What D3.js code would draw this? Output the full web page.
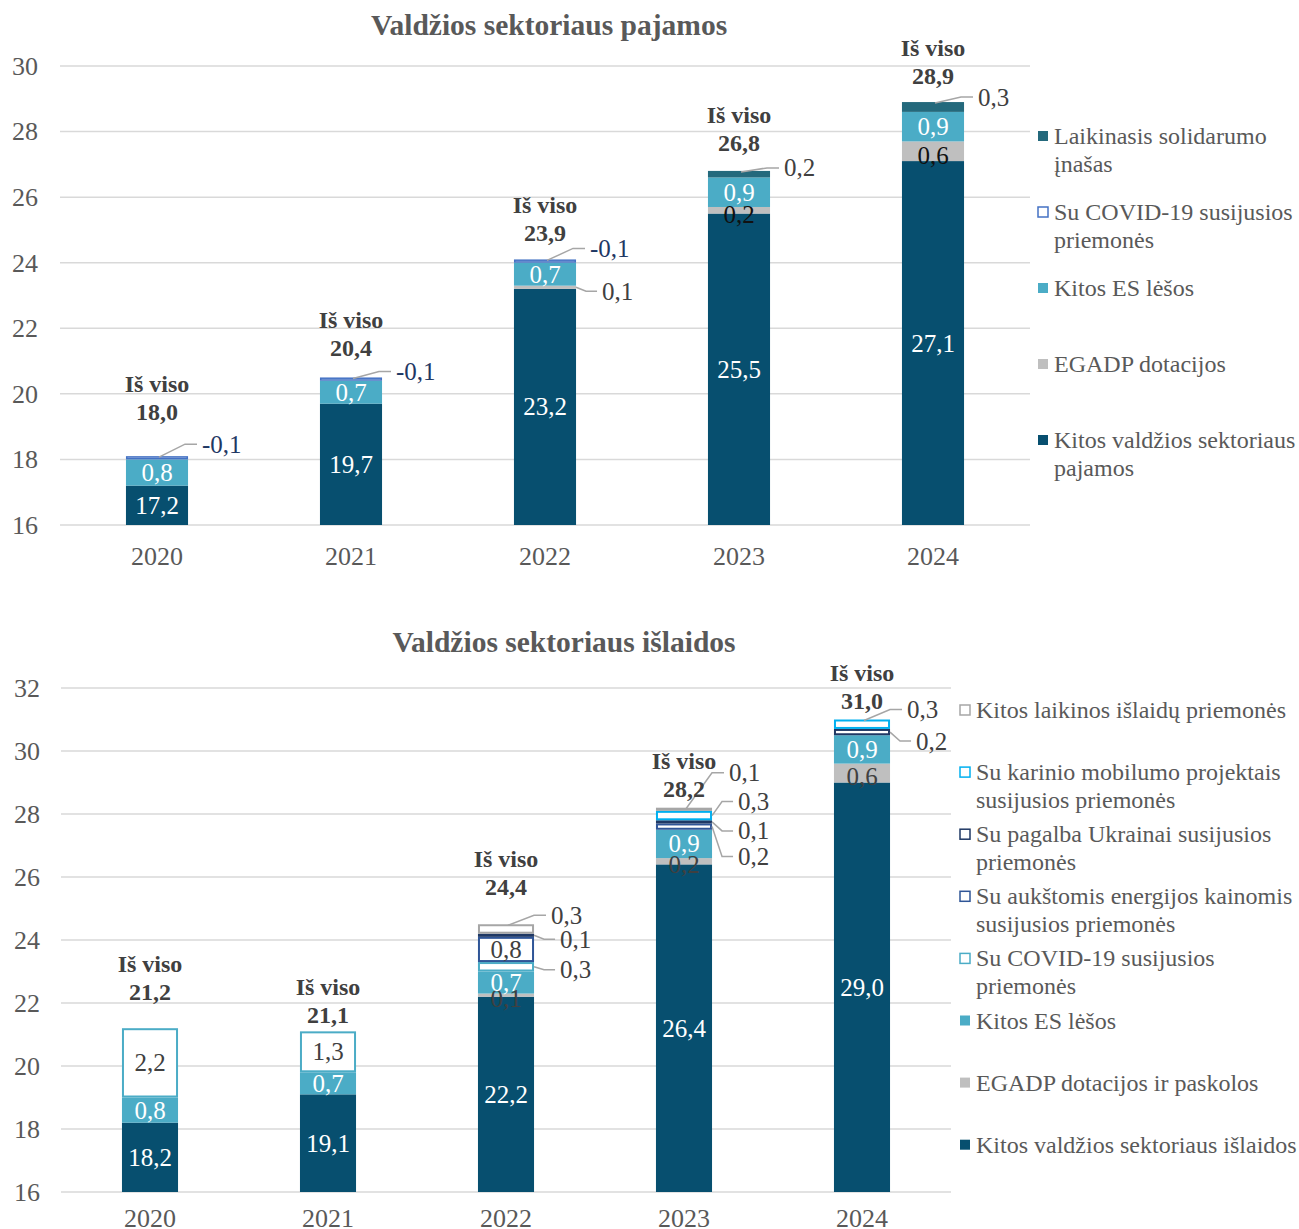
<!DOCTYPE html>
<html><head><meta charset="utf-8">
<script src="https://cdn.jsdelivr.net/npm/d3@7"></script>
<style>body{margin:0;background:#fff} svg{display:block}</style>
</head><body>
<svg id="c" width="1299" height="1229"></svg>
<script>
// ---------- DATA ----------
const years = ["2020","2021","2022","2023","2024"];

// Revenue chart
const revTitle = "Valdžios sektoriaus pajamos";
const revOther = [17.2, 19.7, 23.2, 25.5, 27.1];
const revEgadp = [0, 0, 0.1, 0.2, 0.6];
const revEu = [0.8, 0.7, 0.7, 0.9, 0.9];
const revCovid = [-0.1, -0.1, -0.1, 0, 0];
const revSolidarity = [0, 0, 0, 0.2, 0.3];
const revTotal = [18.0, 20.4, 23.9, 26.8, 28.9];
const revTicks = [16, 18, 20, 22, 24, 26, 28, 30];
const revNames = ["Kitos valdžios sektoriaus pajamos", "EGADP dotacijos", "Kitos ES lėšos",
  "Su COVID-19 susijusios priemonės", "Laikinasis solidarumo įnašas"];

// Expenditure chart
const expTitle = "Valdžios sektoriaus išlaidos";
const expOther = [18.2, 19.1, 22.2, 26.4, 29.0];
const expEgadp = [0, 0, 0.1, 0.2, 0.6];
const expEu = [0.8, 0.7, 0.7, 0.9, 0.9];
const expCovid = [2.2, 1.3, 0.3, 0, 0];
const expEnergy = [0, 0, 0.8, 0.2, 0];
const expUkraine = [0, 0, 0.1, 0.1, 0.2];
const expMilitary = [0, 0, 0, 0.3, 0.3];
const expTempOther = [0, 0, 0.3, 0.1, 0];
const expTotal = [21.2, 21.1, 24.4, 28.2, 31.0];
const expTicks = [16, 18, 20, 22, 24, 26, 28, 30, 32];
const expNames = ["Kitos valdžios sektoriaus išlaidos", "EGADP dotacijos ir paskolos", "Kitos ES lėšos",
  "Su COVID-19 susijusios priemonės", "Su aukštomis energijos kainomis susijusios priemonės",
  "Su pagalba Ukrainai susijusios priemonės", "Su karinio mobilumo projektais susijusios priemonės",
  "Kitos laikinos išlaidų priemonės"];
const totalWord = "Iš viso";

// ---------- STYLE / LAYOUT ----------
const FONT = "'Liberation Serif','Times New Roman',serif";
const fmt = v => d3.format(".1f")(v).replace(".", ",").replace("\u2212", "-");
const svg = d3.select("#c");

function drawChart(cfg) {
  const g = svg.append("g");
  const x = d3.scaleBand().domain(years).range(cfg.xRange).paddingInner(cfg.padIn).paddingOuter(cfg.padIn / 2);
  const y = d3.scaleLinear().domain(cfg.yDomain).range(cfg.yRange);

  // gridlines
  g.selectAll("line.grid").data(cfg.ticks).join("line")
    .attr("x1", cfg.xRange[0]).attr("x2", cfg.xRange[1])
    .attr("y1", d => y(d)).attr("y2", d => y(d))
    .attr("stroke", "#d9d9d9").attr("stroke-width", 1.5);

  // y tick labels
  const ya = d3.axisLeft(y).tickValues(cfg.ticks).tickSize(0).tickPadding(0).tickFormat(d3.format("d"));
  const yg = g.append("g").attr("transform", `translate(${cfg.tickX},0)`).call(ya);
  yg.select(".domain").remove();
  yg.selectAll("text").attr("font-family", FONT).attr("font-size", 26).attr("fill", "#595959");

  // x labels
  const xa = d3.axisBottom(x).tickSize(0).tickPadding(0);
  const xg = g.append("g").attr("transform", `translate(0,${cfg.xLabelY})`).call(xa);
  xg.select(".domain").remove();
  xg.selectAll("text").attr("font-family", FONT).attr("font-size", 26).attr("fill", "#595959")
    .attr("dy", "0.35em");

  // title
  g.append("text").attr("x", cfg.titleX).attr("y", cfg.titleY).attr("text-anchor", "middle")
    .attr("dominant-baseline", "central")
    .attr("font-family", FONT).attr("font-size", 29.5).attr("font-weight", "bold").attr("fill", "#595959")
    .text(cfg.title);

  // clip
  const clipId = "clip" + cfg.id;
  svg.append("clipPath").attr("id", clipId).append("rect")
    .attr("x", cfg.xRange[0]).attr("width", cfg.xRange[1] - cfg.xRange[0])
    .attr("y", 0).attr("height", cfg.yRange[0]);

  const bw = x.bandwidth();
  const segs = [];
  years.forEach((yr, i) => {
    let base = 0;
    cfg.series.forEach((s, si) => {
      const v = s.values[i];
      if (v === 0) return;
      const h = Math.abs(v);
      segs.push({yr, i, si, s, v, y0: base, y1: base + h});
      base += h;
    });
  });
  const tops = years.map((yr, i) => d3.max(segs.filter(d => d.i === i), d => d.y1));

  const bars = g.append("g").attr("clip-path", `url(#${clipId})`);
  segs.forEach(d => {
    const sw = d.s.outline ? d.s.sw : 0;
    const top = y(d.y1), bot = y(d.y0);
    bars.append("rect")
      .attr("x", x(d.yr) + sw / 2).attr("width", bw - sw)
      .attr("y", top + sw / 2).attr("height", Math.max(0.1, bot - top - sw))
      .attr("fill", d.s.outline ? (d.s.fill || "#ffffff") : d.s.color)
      .attr("stroke", d.s.outline ? d.s.color : "none")
      .attr("stroke-width", sw);
  });

  // labels
  const isCallout = d => cfg.callouts.find(c => c.si === d.si && c.i === d.i);
  segs.forEach(d => {
    const cx = x(d.yr) + bw / 2;
    const c = isCallout(d);
    const top = y(d.y1);
    const bot = Math.min(y(d.y0), cfg.yRange[0]);
    if (c) {
      let pts, tx, ty;
      if (c.type === "top") {
        ty = top + c.dy;
        pts = [[cx + 2, top + 1], [cx + 28, ty], [cx + 40, ty]];
        tx = cx + 45;
      } else {
        const mid = (top + bot) / 2 + (c.sy || 0);
        const re = x(d.yr) + bw;
        ty = mid + c.dy;
        pts = [[re, mid], [re + 10, ty], [re + 21, ty]];
        tx = re + 26;
      }
      g.append("path").attr("d", d3.line()(pts)).attr("fill", "none")
        .attr("stroke", "#a6a6a6").attr("stroke-width", 1.5);
      g.append("text").attr("x", tx).attr("y", ty).attr("dominant-baseline", "central")
        .attr("font-family", FONT).attr("font-size", 25).attr("fill", d.s.calloutColor || "#404040")
        .text(fmt(d.v));
    } else {
      g.append("text").attr("x", cx).attr("y", (top + bot) / 2 + (d.s.labelDy || 0))
        .attr("text-anchor", "middle").attr("dominant-baseline", "central")
        .attr("font-family", FONT).attr("font-size", 25).attr("fill", d.s.labelColor)
        .text(fmt(d.v));
    }
  });

  // totals
  years.forEach((yr, i) => {
    const cx = x(yr) + bw / 2;
    const ny = y(tops[i]) - cfg.totalOff[i];
    g.append("text").attr("x", cx).attr("y", ny).attr("text-anchor", "middle").attr("dominant-baseline", "central")
      .attr("font-family", FONT).attr("font-size", 24).attr("font-weight", "bold").attr("fill", "#404040")
      .text(fmt(cfg.totals[i]));
    g.append("text").attr("x", cx).attr("y", ny - 28).attr("text-anchor", "middle").attr("dominant-baseline", "central")
      .attr("font-family", FONT).attr("font-size", 24).attr("font-weight", "bold").attr("fill", "#404040")
      .text(totalWord);
  });

  // legend
  cfg.legend.forEach((it, k) => {
    const s = cfg.series[it.si];
    const ly = cfg.legY + k * cfg.legStep;
    g.append("rect").attr("x", cfg.legX + 1).attr("y", ly - 5).attr("width", 10).attr("height", 10)
      .attr("fill", s.outline ? "#fff" : s.color)
      .attr("stroke", s.outline ? s.color : "none").attr("stroke-width", s.outline ? 1.5 : 0);
    it.lines.forEach((ln, j) => {
      g.append("text").attr("x", cfg.legX + 17).attr("y", ly + j * 28).attr("dominant-baseline", "central")
        .attr("font-family", FONT).attr("font-size", 24).attr("fill", "#595959").text(ln);
    });
  });
}

const C_OTHER = "#074f6f", C_EU = "#4bacc6", C_EGADP = "#bfbfbf";

drawChart({
  id: "rev", title: revTitle, titleX: 549, titleY: 25,
  xRange: [60, 1030], padIn: 0.68, yDomain: [16, 30], yRange: [525, 66],
  ticks: revTicks, tickX: 38, xLabelY: 556, totals: revTotal,
  totalOff: [44, 29, 26, 28, 26],
  series: [
    {name: revNames[0], values: revOther, color: C_OTHER, labelColor: "#ffffff"},
    {name: revNames[1], values: revEgadp, color: C_EGADP, labelColor: "#111111", labelDy: 4},
    {name: revNames[2], values: revEu, color: C_EU, labelColor: "#ffffff"},
    {name: revNames[3], values: revCovid, color: "#4472c4", outline: true, sw: 1.5, fill: "#dae3f3", calloutColor: "#1f3864"},
    {name: revNames[4], values: revSolidarity, color: "#24697c", labelColor: "#ffffff"}
  ],
  callouts: [
    {si: 3, i: 0, type: "top", dy: -12},
    {si: 3, i: 1, type: "top", dy: -6},
    {si: 3, i: 2, type: "top", dy: -11},
    {si: 1, i: 2, type: "right", dy: 4},
    {si: 4, i: 3, type: "top", dy: -3},
    {si: 4, i: 4, type: "top", dy: -5}
  ],
  legX: 1037, legY: 136, legStep: 76,
  legend: [
    {si: 4, lines: ["Laikinasis solidarumo", "įnašas"]},
    {si: 3, lines: ["Su COVID-19 susijusios", "priemonės"]},
    {si: 2, lines: ["Kitos ES lėšos"]},
    {si: 1, lines: ["EGADP dotacijos"]},
    {si: 0, lines: ["Kitos valdžios sektoriaus", "pajamos"]}
  ]
});

drawChart({
  id: "exp", title: expTitle, titleX: 564, titleY: 642,
  xRange: [61, 951], padIn: 0.685, yDomain: [16, 32], yRange: [1192, 688],
  ticks: expTicks, tickX: 40, xLabelY: 1218, totals: expTotal,
  totalOff: [36, 16, 37, 19, 19],
  series: [
    {name: expNames[0], values: expOther, color: C_OTHER, labelColor: "#ffffff"},
    {name: expNames[1], values: expEgadp, color: C_EGADP, labelColor: "#404040", labelDy: 3},
    {name: expNames[2], values: expEu, color: C_EU, labelColor: "#ffffff"},
    {name: expNames[3], values: expCovid, color: "#4bacc6", outline: true, sw: 2, labelColor: "#404040"},
    {name: expNames[4], values: expEnergy, color: "#2f5597", outline: true, sw: 2, labelColor: "#404040"},
    {name: expNames[5], values: expUkraine, color: "#1f3864", outline: true, sw: 2, labelColor: "#404040"},
    {name: expNames[6], values: expMilitary, color: "#00b0f0", outline: true, sw: 2, labelColor: "#404040"},
    {name: expNames[7], values: expTempOther, color: "#a6a6a6", outline: true, sw: 2, labelColor: "#404040"}
  ],
  callouts: [
    {si: 7, i: 2, type: "top", dy: -9},
    {si: 5, i: 2, type: "right", dy: 4},
    {si: 3, i: 2, type: "right", dy: 3},
    {si: 7, i: 3, type: "top", dy: -35},
    {si: 6, i: 3, type: "right", dy: -14},
    {si: 5, i: 3, type: "right", dy: 9},
    {si: 4, i: 3, type: "right", dy: 30},
    {si: 6, i: 4, type: "top", dy: -10},
    {si: 5, i: 4, type: "right", dy: 9}
  ],
  legX: 959, legY: 710, legStep: 62.1,
  legend: [
    {si: 7, lines: ["Kitos laikinos išlaidų priemonės"]},
    {si: 6, lines: ["Su karinio mobilumo projektais", "susijusios priemonės"]},
    {si: 5, lines: ["Su pagalba Ukrainai susijusios", "priemonės"]},
    {si: 4, lines: ["Su aukštomis energijos kainomis", "susijusios priemonės"]},
    {si: 3, lines: ["Su COVID-19 susijusios", "priemonės"]},
    {si: 2, lines: ["Kitos ES lėšos"]},
    {si: 1, lines: ["EGADP dotacijos ir paskolos"]},
    {si: 0, lines: ["Kitos valdžios sektoriaus išlaidos"]}
  ]
});
</script>
</body></html>
